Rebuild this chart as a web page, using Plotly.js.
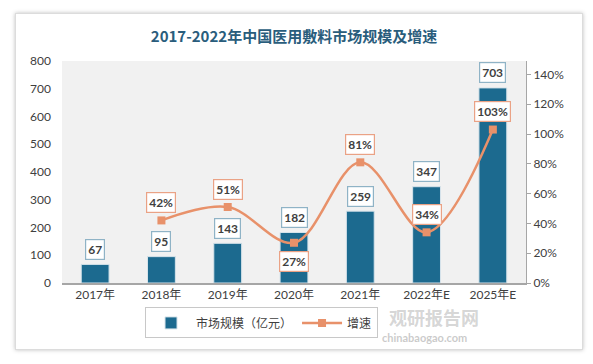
<!DOCTYPE html>
<html>
<head>
<meta charset="utf-8">
<script src="https://cdn.plot.ly/plotly-3.0.1.min.js"></script>
<style>
html,body{margin:0;padding:0;background:#ffffff;width:593px;height:364px;overflow:hidden;}
#card{position:absolute;left:15px;top:13px;width:566px;height:335px;border:1px solid #dcdcdc;box-shadow:0 0 4px rgba(0,0,0,0.25);background:#fff;}
#chart{position:absolute;left:0;top:0;width:593px;height:364px;}
</style>
</head>
<body>
<div id="card"></div>
<div id="chart"></div>
<script>
const categories = ["2017年","2018年","2019年","2020年","2021年","2022年E","2025年E"];
const marketSize = [67, 95, 143, 182, 259, 347, 703];
const growthYears = ["2018年","2019年","2020年","2021年","2022年E","2025年E"];
const growthRate = [0.42, 0.51, 0.27, 0.81, 0.34, 1.03];
const growthLabelPos = ["above","above","below","above","above","above"];
const leftTicks = [0,100,200,300,400,500,600,700,800];
const rightTicks = [0,0.2,0.4,0.6,0.8,1.0,1.2,1.4];

const barColor = "#1c6a8f";
const lineColor = "#e8916a";
const labelFont = {family:"Lato, 'Open Sans', sans-serif", size:12, color:"#404040", weight:"bold"};

const traces = [
  {
    type:"bar", name:"市场规模（亿元）", x:categories, y:marketSize,
    marker:{color:barColor, line:{color:"#d6e3ea", width:1}},
    width:0.42, yaxis:"y", hoverinfo:"skip"
  },
  {
    type:"scatter", mode:"lines+markers", name:"增速", x:growthYears, y:growthRate,
    yaxis:"y2", line:{color:lineColor, width:2.5, shape:"spline", smoothing:1},
    marker:{symbol:"square", size:8, color:lineColor}, hoverinfo:"skip"
  }
];

const annotations = [];
categories.forEach((c,i)=>{
  annotations.push({
    x:c, y:marketSize[i], xref:"x", yref:"y", text:String(marketSize[i]),
    showarrow:false, yshift:15, font:labelFont,
    bgcolor:"#ffffff", bordercolor:"#8fb3c6", borderwidth:1.2, borderpad:2
  });
});
growthYears.forEach((c,i)=>{
  annotations.push({
    x:c, y:growthRate[i], xref:"x", yref:"y2", text:Math.round(growthRate[i]*100)+"%",
    showarrow:false, yshift: growthLabelPos[i]==="above" ? 18 : -19, font:labelFont,
    bgcolor:"#ffffff", bordercolor:"#eaa285", borderwidth:1.2, borderpad:2
  });
});
// watermark texts
annotations.push({xref:"paper", yref:"paper", x:0.70, y:-0.155, xanchor:"left", yanchor:"middle", text:"观研报告网", showarrow:false,
  font:{family:"Noto Sans CJK SC", size:18, color:"rgba(150,150,150,0.4)", weight:"bold"}});
annotations.push({xref:"paper", yref:"paper", x:0.685, y:-0.245, xanchor:"left", yanchor:"middle", text:"chinabaogao.com", showarrow:false,
  font:{family:"Lato, sans-serif", size:11, color:"rgba(150,150,150,0.5)", weight:"bold"}});

const layout = {
  width:593, height:364,
  margin:{l:62, r:67, t:61, b:81, autoexpand:false},
  paper_bgcolor:"rgba(0,0,0,0)",
  plot_bgcolor:"#f1f1f1",
  title:{text:"2017-2022年中国医用敷料市场规模及增速", x:0.5, xref:"paper", xanchor:"center", y:0.9, yref:"container", yanchor:"middle",
    font:{family:"'Noto Sans CJK SC', sans-serif", size:15, color:"#2a5d7c", weight:"bold"}},
  xaxis:{type:"category", categoryorder:"array", categoryarray:categories, range:[-0.5,6.5],
    showline:true, linecolor:"#a6a6a6", linewidth:1.5, ticks:"", showgrid:false,
    tickfont:{family:"Lato, 'Noto Sans CJK SC', sans-serif", size:12, color:"#404040"}},
  yaxis:{range:[0,800], tickvals:leftTicks, showgrid:false, zeroline:false, showline:false, ticks:"",
    ticklabelstandoff:10,
    tickfont:{family:"Lato, sans-serif", size:12, color:"#404040"}},
  yaxis2:{overlaying:"y", side:"right", range:[0,1.49], tickvals:rightTicks, tickformat:".0%",
    showgrid:false, zeroline:false, showline:true, linecolor:"#a6a6a6", linewidth:1,
    ticks:"outside", ticklen:4, tickcolor:"#a6a6a6",
    tickfont:{family:"Lato, sans-serif", size:12, color:"#404040"}},
  legend:{orientation:"h", x:0.43, xanchor:"center", y:-0.11, yanchor:"top",
    bordercolor:"#c8c8c8", borderwidth:1, bgcolor:"#ffffff",
    font:{family:"'Noto Sans CJK SC', sans-serif", size:12, color:"#404040"}, itemwidth:40},
  annotations:annotations,
  showlegend:true
};

Plotly.newPlot("chart", traces, layout, {displayModeBar:false, staticPlot:true});
</script>
</body>
</html>
